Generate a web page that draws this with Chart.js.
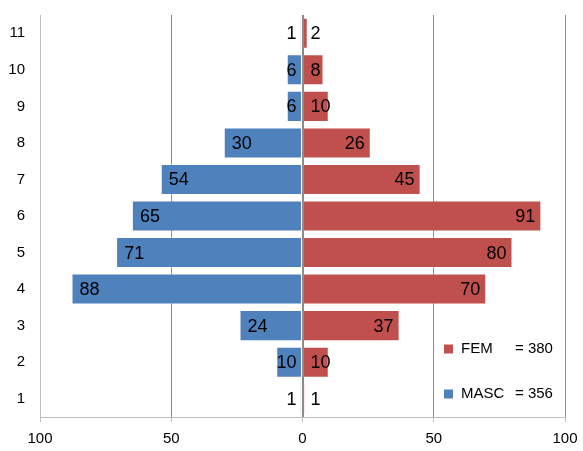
<!DOCTYPE html>
<html>
<head>
<meta charset="utf-8">
<script src="https://cdn.jsdelivr.net/npm/chart.js@4"></script>
<style>
  html, body { margin: 0; padding: 0; background: #fff; }
  #wrap { width: 583px; height: 451px; }
</style>
</head>
<body>
<div id="wrap"><canvas id="myChart" width="583" height="451"></canvas></div>
<script>
const categories = ['1', '2', '3', '4', '5', '6', '7', '8', '9', '10', '11'];
const femValues = [1, 10, 37, 70, 80, 91, 45, 26, 10, 8, 2];
const mascValues = [1, 10, 24, 88, 71, 65, 54, 30, 6, 6, 1];
const xTicks = [-100, -50, 0, 50, 100];

const sum = (arr) => arr.reduce((a, b) => a + b, 0);

// value labels next to the bar ends, plus the zero line over the bars
const barLabels = {
    id: 'barLabels',
    afterDatasetsDraw(chart) {
        const ctx = chart.ctx;
        const area = chart.chartArea;
        const x0 = chart.scales.x.getPixelForValue(0);

        ctx.save();
        ctx.strokeStyle = '#8c8c8c';
        ctx.lineWidth = 1;
        ctx.beginPath();
        ctx.moveTo(Math.round(x0) + 0.5, area.top);
        ctx.lineTo(Math.round(x0) + 0.5, area.bottom);
        ctx.stroke();

        ctx.font = '18px "Liberation Sans", Arial, sans-serif';
        ctx.fillStyle = '#000';
        ctx.textBaseline = 'middle';
        chart.data.datasets.forEach((ds, i) => {
            let meta = chart.getDatasetMeta(i);
            meta.data.forEach((bar, j) => {
                let v = ds.data[j];
                let text = String(Math.abs(v));
                let w = ctx.measureText(text).width;
                let x;
                if (v < 0) {
                    ctx.textAlign = 'left';
                    x = Math.min(bar.x + 8, x0 - 6 - w);
                } else {
                    ctx.textAlign = 'right';
                    x = Math.max(bar.x - 6, x0 + 8 + w);
                }
                ctx.fillText(text, x, bar.y + 1);
            });
        });
        ctx.restore();
    }
};

// legend with totals, sitting inside the plot at the lower right
const totalsLegend = {
    id: 'totalsLegend',
    afterDraw(chart) {
        const ctx = chart.ctx;
        const rows = [
            { name: 'FEM', total: sum(femValues), color: '#C0504D', y: 349 },
            { name: 'MASC', total: sum(mascValues), color: '#4F81BD', y: 394 }
        ];
        ctx.save();
        ctx.font = '15px "Liberation Sans", Arial, sans-serif';
        ctx.textBaseline = 'middle';
        ctx.textAlign = 'left';
        rows.forEach((r) => {
            ctx.fillStyle = r.color;
            ctx.fillRect(444, r.y - 4.5, 9, 9);
            ctx.fillStyle = '#000';
            ctx.fillText(r.name, 461, r.y);
            ctx.fillText('= ' + r.total, 515, r.y);
        });
        ctx.restore();
    }
};

const noPad = (scale) => {
    scale.paddingTop = 0;
    scale.paddingBottom = 0;
    scale.paddingLeft = 0;
    scale.paddingRight = 0;
};

let config = {
    type: 'bar',
    data: {
        labels: categories,
        datasets: [{
                label: 'FEM',
                data: femValues,
                backgroundColor: '#C0504D',
                borderColor: 'rgba(255,255,255,0.35)',
                borderWidth: 1,
                borderSkipped: false
            }, {
                label: 'MASC',
                data: mascValues.map((v) => -v),
                backgroundColor: '#4F81BD',
                borderColor: 'rgba(255,255,255,0.35)',
                borderWidth: 1,
                borderSkipped: false
        }]
    },
    options: {
        indexAxis: 'y',
        responsive: false,
        animation: false,
        barPercentage: 0.85,
        categoryPercentage: 1.0,
        layout: { padding: { top: 15, right: 18, bottom: 0, left: 0 } },
        plugins: {
            legend: { display: false },
            tooltip: { enabled: false }
        },
        scales: {
            x: {
                stacked: true,
                min: -100,
                max: 100,
                afterBuildTicks: (scale) => {
                    scale.ticks = xTicks.map((v) => ({ value: v }));
                },
                afterFit: (scale) => { scale.height = 34; noPad(scale); },
                grid: {
                    color: (c) => (c.tick && c.tick.value === -100) ? 'rgba(0,0,0,0)' : '#8c8c8c',
                    tickColor: '#bfbfbf',
                    tickLength: 5
                },
                border: { display: true, color: '#bfbfbf' },
                ticks: {
                    color: '#000',
                    padding: 8,
                    maxRotation: 0,
                    font: { family: '"Liberation Sans", Arial, sans-serif', size: 15 },
                    callback: (value) => Math.abs(value)
                }
            },
            y: {
                stacked: true,
                reverse: true,
                afterFit: (scale) => { scale.width = 40; noPad(scale); },
                grid: { color: 'rgba(0,0,0,0)', drawTicks: false },
                border: { display: true, color: '#bfbfbf' },
                ticks: {
                    color: '#000',
                    padding: 15,
                    font: { family: '"Liberation Sans", Arial, sans-serif', size: 15 }
                }
            }
        }
    },
    plugins: [barLabels, totalsLegend]
};

let ctx = document.getElementById('myChart').getContext('2d');
var myChart = new Chart(ctx, config);
</script>
</body>
</html>
